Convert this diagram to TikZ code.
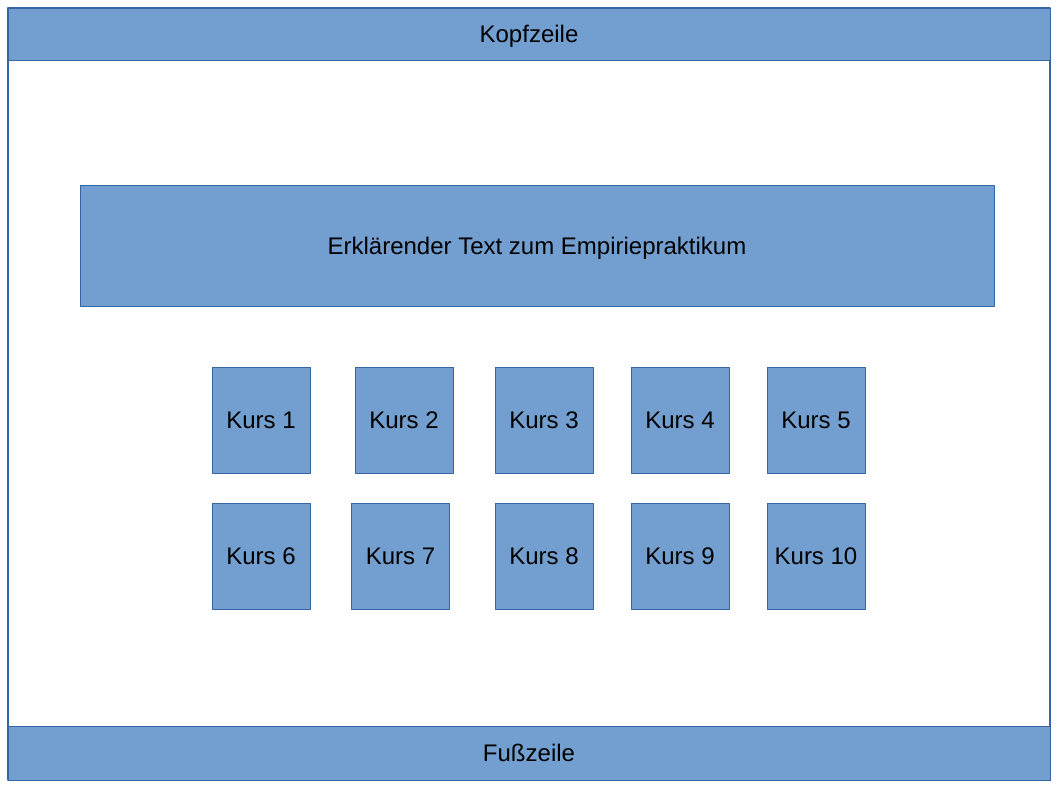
\documentclass[tikz,border=0pt]{standalone}
\usepackage{fontspec}
\setmainfont{Liberation Sans}
\definecolor{boxfill}{HTML}{729FCF}
\definecolor{boxline}{HTML}{3465A4}
\tikzset{
  blau/.style={draw=boxline, fill=boxfill, inner sep=0pt, text depth=0pt},
  kurs/.style={blau, minimum width=98pt, minimum height=106pt}
}
\begin{document}
\begin{tikzpicture}[x=1pt, y=-1pt, font=\fontsize{24}{28}\selectfont, line join=round]
\useasboundingbox (0,0) rectangle (1058,794);
\draw[boxline, line width=2pt, fill=white] (8,8) rectangle (1050,780);
\node[blau, minimum width=1042pt, minimum height=52pt] (kopf) at (529,34) {Kopfzeile};
\node[blau, minimum width=1042pt, minimum height=54pt] (fuss) at (529,753) {Fußzeile};
\node[blau, minimum width=914pt, minimum height=121pt] (text) at (537,245.5) {Erklärender Text zum Empiriepraktikum};
\foreach \i/\x in {1/261, 2/404, 3/544, 4/680, 5/816}
  \node[kurs] (kurs\i) at (\x,420) {Kurs \i};
\foreach \i/\x in {6/261, 7/400.5, 8/544, 9/680, 10/816}
  \node[kurs] (kurs\i) at (\x,556) {Kurs \i};
\end{tikzpicture}
\end{document}
